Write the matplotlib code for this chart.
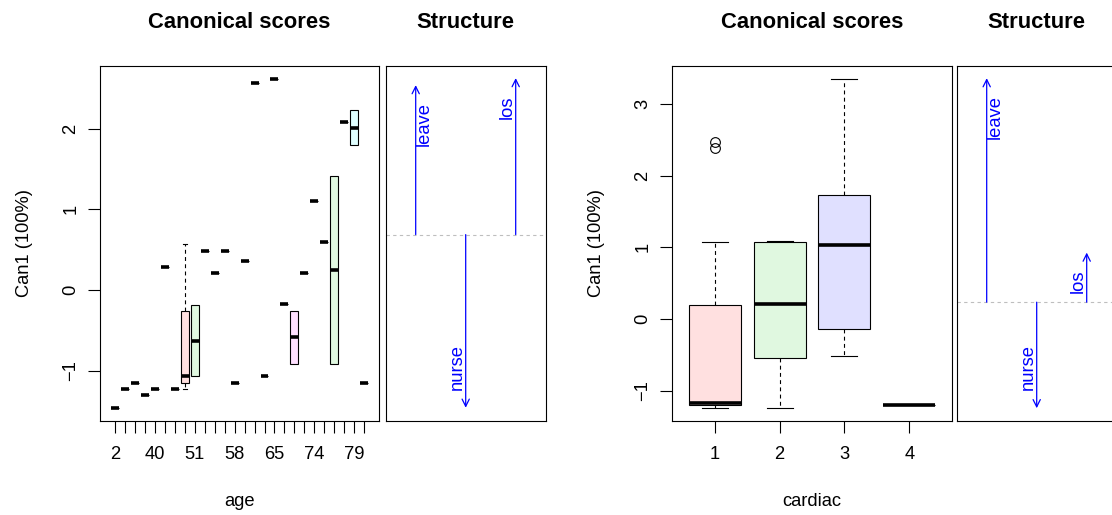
import numpy as np
import matplotlib
matplotlib.use("Agg")
import matplotlib.pyplot as plt

plt.rcParams['font.family'] = ['Liberation Sans', 'DejaVu Sans']

# ---- data ----
# age panel: 26 age levels, five-number summaries of Can1
age_levels = [2, 20, 29, 35, 40, 43, 47, 49, 51, 52, 54, 56, 58,
              59, 61, 63, 65, 67, 69, 72, 74, 75, 77, 78, 79, 83]
age_med = [-1.459, -1.231, -1.153, -1.306, -1.231, 0.285, -1.231, -1.074, -0.628,
           0.488, 0.207, 0.488, -1.153, 0.360, 2.562, -1.074, 2.616, -0.178,
           -0.589, 0.207, 1.107, 0.591, 0.244, 2.079, 2.012, -1.153]
age_q1 = [-1.459, -1.231, -1.153, -1.306, -1.231, 0.285, -1.231, -1.157, -1.074,
          0.488, 0.207, 0.488, -1.153, 0.360, 2.562, -1.074, 2.616, -0.178,
          -0.921, 0.207, 1.107, 0.591, -0.921, 2.079, 1.793, -1.153]
age_q3 = [-1.459, -1.231, -1.153, -1.306, -1.231, 0.285, -1.231, -0.256, -0.182,
          0.488, 0.207, 0.488, -1.153, 0.360, 2.562, -1.074, 2.616, -0.178,
          -0.256, 0.207, 1.107, 0.591, 1.409, 2.079, 2.231, -1.153]
age_lo = list(age_q1)
age_hi = list(age_q3)
age_lo[7] = -1.227
age_hi[7] = 0.570

# cardiac panel
card_levels = ["1", "2", "3", "4"]
card_q1 = [-1.197, -0.534, -0.139, -1.193]
card_med = [-1.169, 0.209, 1.035, -1.193]
card_q3 = [0.200, 1.081, 1.731, -1.193]
card_lo = [-1.230, -1.230, -0.515, -1.193]
card_hi = [1.081, 1.095, 3.346, -1.193]
card_out = [[2.39, 2.47], [], [], []]

# structure vectors (leave, nurse, los)
struct_vars = ["leave", "nurse", "los"]
age_struct_origin = 0.685
age_struct = [1.853, -2.146, 1.94]
card_struct_origin = 0.237
card_struct = [3.118, -1.476, 0.69]

# R palette without black
pal = ["#FF0000", "#00CD00", "#0000FF", "#00FFFF", "#FF00FF", "#FFFF00", "#BEBEBE"]

W, H = 1112, 515
fig = plt.figure(figsize=(W / 100, H / 100), dpi=100)

FS = 13.2


def make_axes(left, right):
    b = (H - 420.7) / H
    h = (420.7 - 65.7) / H
    return fig.add_axes([left / W, b, (right - left) / W, h])


def box_panel(ax, labels, q1, med, q3, lo, hi, fliers, xlabel, show_every=1):
    n = len(labels)
    stats = []
    for i in range(n):
        stats.append(dict(med=med[i], q1=q1[i], q3=q3[i], whislo=lo[i],
                          whishi=hi[i], fliers=fliers[i]))
    capw = [0.4 if (lo[i] < q1[i] or hi[i] > q3[i]) else 0.0 for i in range(n)]
    bp = ax.bxp(stats, positions=np.arange(1, n + 1), widths=0.8,
                patch_artist=True, capwidths=capw, manage_ticks=False,
                boxprops=dict(edgecolor="black", linewidth=0.8),
                medianprops=dict(color="black", linewidth=2.6, solid_capstyle="butt"),
                whiskerprops=dict(color="black", linewidth=0.8, linestyle=(0, (3.5, 3))),
                capprops=dict(color="black", linewidth=0.8),
                flierprops=dict(marker="o", markerfacecolor="none",
                                markeredgecolor="black", markersize=7,
                                markeredgewidth=0.8))
    for i, patch in enumerate(bp["boxes"]):
        c = matplotlib.colors.to_rgb(pal[i % len(pal)])
        patch.set_facecolor((c[0], c[1], c[2], 0.12))
    allv = list(lo) + list(hi) + [v for f in fliers for v in f]
    rng = max(allv) - min(allv)
    ymin, ymax = min(allv) - 0.04 * rng, max(allv) + 0.04 * rng
    ax.set_ylim(ymin, ymax)
    ax.set_yticks(np.arange(np.ceil(ymin), np.floor(ymax) + 1))
    ax.set_yticklabels([str(int(v)).replace("-", "\u2212") for v in ax.get_yticks()])
    ax.set_xlim(0.5 - 0.04 * n, n + 0.5 + 0.04 * n)
    ax.set_xticks(np.arange(1, n + 1))
    ax.set_xticklabels([str(l) if i % show_every == 0 else "" for i, l in enumerate(labels)])
    ax.tick_params(axis="both", direction="out", length=8.4, width=0.8,
                   labelsize=FS, color="black")
    ax.tick_params(axis="x", pad=10)
    ax.tick_params(axis="y", pad=6.5)
    for lab in ax.get_yticklabels():
        lab.set_rotation(90)
        lab.set_va("center")
    for s in ax.spines.values():
        s.set_linewidth(0.8)
    ax.set_xlabel(xlabel, fontsize=FS)
    ax.xaxis.set_label_coords(0.5, -0.205)
    ax.set_ylabel("Can1 (100%)", fontsize=FS)
    ax.yaxis.set_label_coords(-0.24, 0.5)
    ax.text(0.5, 1.122, "Canonical scores", transform=ax.transAxes, ha="center",
            va="center", fontsize=15.8, fontweight="bold")


def struct_panel(ax, ylim, origin, lengths):
    ax.set_xlim(0.4, 3.6)
    ax.set_ylim(ylim)
    ax.set_xticks([])
    ax.set_yticks([])
    for s in ax.spines.values():
        s.set_linewidth(0.8)
    ax.axhline(origin, color="#BEBEBE", linewidth=0.8, linestyle=(0, (3, 3)))
    for i, (name, L) in enumerate(zip(struct_vars, lengths)):
        x = i + 1
        tip = origin + L
        ax.annotate("", xy=(x, tip), xytext=(x, origin),
                    arrowprops=dict(arrowstyle="->", color="blue", lw=0.9,
                                    shrinkA=0, shrinkB=0, mutation_scale=13))
        ha = "left" if name == "leave" else "right"
        if L > 0:
            va, dy = "top", -17
        else:
            va, dy = "bottom", 18
        ax.annotate(name, xy=(x, tip), xytext=(0, dy), textcoords="offset pixels",
                    rotation=90, ha=ha, va=va, color="blue", fontsize=FS)
    ax.text(0.5, 1.122, "Structure", transform=ax.transAxes, ha="center",
            va="center", fontsize=15.8, fontweight="bold")


ax1 = make_axes(100, 379.3)
box_panel(ax1, age_levels, age_q1, age_med, age_q3, age_lo, age_hi,
          [[] for _ in age_levels], "age", show_every=4)
ax2 = make_axes(385.7, 545.7)
struct_panel(ax2, ax1.get_ylim(), age_struct_origin, age_struct)

ax3 = make_axes(672, 952)
box_panel(ax3, card_levels, card_q1, card_med, card_q3, card_lo, card_hi,
          card_out, "cardiac")
ax4 = make_axes(956.7, 1116.7)
struct_panel(ax4, ax3.get_ylim(), card_struct_origin, card_struct)

fig.savefig("out.png", dpi=100)
